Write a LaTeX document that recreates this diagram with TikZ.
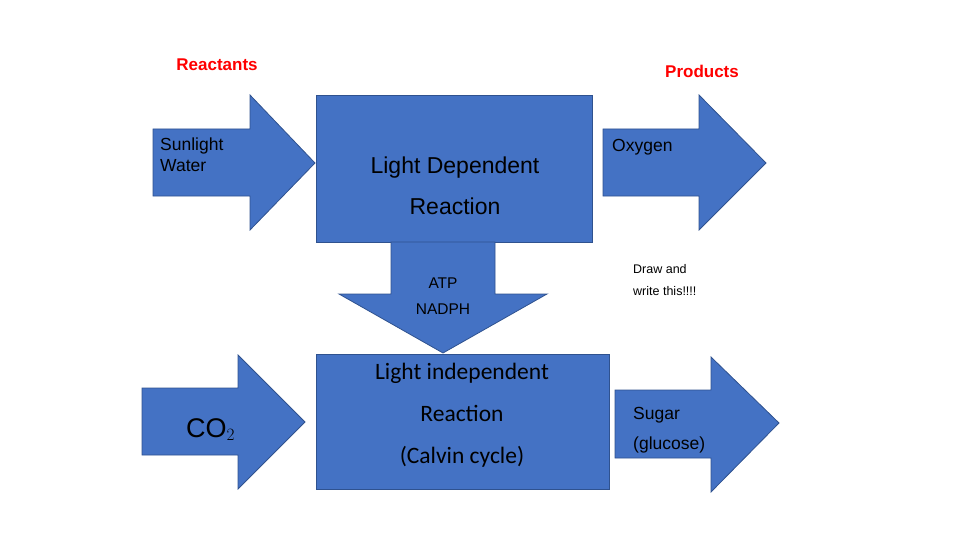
\documentclass[tikz,border=0pt]{standalone}
\usepackage{fontspec}
\setmainfont{Liberation Sans}
\newfontfamily\calib{Carlito}
\definecolor{boxblue}{HTML}{4472C4}
\definecolor{edgeblue}{HTML}{2F528F}
\begin{document}
\begin{tikzpicture}[x=1pt,y=-1pt,
  blk/.style={fill=boxblue,draw=edgeblue,line width=0.8pt},
  lbl/.style={inner sep=0pt,align=left,anchor=north west},
  hdr/.style={inner sep=0pt,text=red,font=\fontsize{17}{20}\selectfont\bfseries}]
\useasboundingbox (0,0) rectangle (960,540);

\node[hdr] (react) at (217,65) {Reactants};
\node[hdr] (prod) at (702,71) {Products};

% arrows in
\draw[blk] (153,129)--(250,129)--(250,95)--(315,163)--(250,230)--(250,196)--(153,196)--cycle;
\draw[blk] (142,388)--(238,388)--(238,355)--(305,422)--(238,489)--(238,455)--(142,455)--cycle;

% boxes
\draw[blk] (316,95) rectangle (592,242);
\draw[blk] (391,242)--(495,242)--(495,294)--(547,294)--(443,353)--(339,294)--(391,294)--cycle;
\draw[blk] (316,354) rectangle (609,489);

% arrows out
\draw[blk] (603,129)--(699,129)--(699,95)--(766,163)--(699,230)--(699,196)--(603,196)--cycle;
\draw[blk] (615,390)--(711,390)--(711,357)--(779,423)--(711,492)--(711,458)--(615,458)--cycle;

\node[lbl,font=\fontsize{17.5}{21}\selectfont] (sun) at (160,138) {Sunlight\\Water};
\node[lbl,font=\fontsize{27}{21}\selectfont] (co2) at (186,418) {CO$_2$};
\node[align=center,inner sep=0pt,font=\fontsize{23}{41}\selectfont] (ldr) at (455,186) {Light Dependent\\Reaction};
\node[align=center,inner sep=0pt,font=\fontsize{15.5}{26}\selectfont] (atp) at (443,296) {ATP\\NADPH};
\node[align=center,inner sep=0pt,font=\calib\fontsize{23.5}{42}\selectfont] (lir) at (462,415) {Light independent\\Reaction\\(Calvin cycle)};
\node[lbl,font=\fontsize{17.5}{21}\selectfont] (oxy) at (612,139) {Oxygen};
\node[lbl,font=\fontsize{12.5}{22}\selectfont] (note) at (633,264) {Draw and\\write this!!!!};
\node[lbl,font=\fontsize{17.5}{30}\selectfont] (sug) at (633,407) {Sugar\\(glucose)};
\end{tikzpicture}
\end{document}
